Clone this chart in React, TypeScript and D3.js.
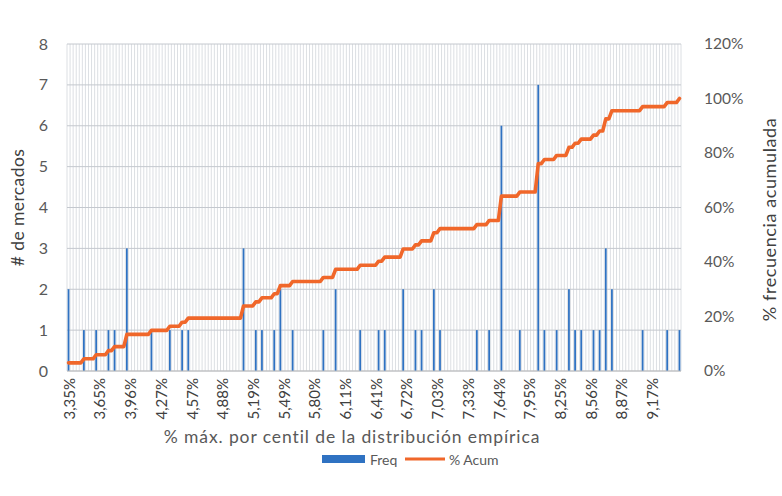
import React from "react";
import * as d3 from "d3";

// ---- data ----
const binCount = 200; // number of histogram categories
const tickLabels = [
  "3,35%", "3,65%", "3,96%", "4,27%", "4,57%", "4,88%", "5,19%", "5,49%", "5,80%", "6,11%",
  "6,41%", "6,72%", "7,03%", "7,33%", "7,64%", "7,95%", "8,25%", "8,56%", "8,87%", "9,17%",
];
const tickEvery = 10; // a label every 10 categories
const freqIndex = [0, 5, 9, 13, 15, 19, 27, 33, 37, 39, 57, 61, 63, 67, 69, 73, 83, 87, 95, 101, 103, 109, 113, 115, 119, 121, 133, 137, 141, 147, 153, 155, 159, 163, 165, 167, 171, 173, 175, 177, 187, 195, 199];
const freqCount = [2, 1, 1, 1, 1, 3, 1, 1, 1, 1, 3, 1, 1, 1, 2, 1, 1, 2, 1, 1, 1, 2, 1, 1, 2, 1, 1, 1, 6, 1, 7, 1, 1, 2, 1, 1, 1, 1, 3, 2, 1, 1, 1];
const leftTicks = [0, 1, 2, 3, 4, 5, 6, 7, 8];
const rightTicks = [0, 0.2, 0.4, 0.6, 0.8, 1.0, 1.2];

const W = 782, H = 496;
const X0 = 67, X1 = 681, YT = 44, YB = 371;
const BLUE = "#2f72c2";
const ORANGE = "#f0672a";
const FONT = "Lato, 'Open Sans', sans-serif";

export default function App() {
  const cats = d3.range(binCount);
  const freq = cats.map(() => 0);
  freqIndex.forEach((ix, k) => (freq[ix] = freqCount[k]));
  const total = d3.sum(freq);
  const cum = d3.cumsum(freq).map((v) => v / total);

  const x = d3.scaleBand<number>().domain(cats).range([X0, X1]).paddingInner(0.42).paddingOuter(0.21);
  const xOuter = d3.scaleBand<number>().domain(cats).range([X0, X1]).padding(0);
  const yL = d3.scaleLinear().domain([0, 8]).range([YB, YT]);
  const yR = d3.scaleLinear().domain([0, 1.2]).range([YB, YT]);

  const line = d3
    .line<number>()
    .x((_, i) => (xOuter(i) as number) + xOuter.bandwidth() / 2)
    .y((d) => yR(d));

  return (
    <svg width={W} height={H} style={{ position: "absolute", left: 0, top: 0, background: "#fff" }}>
      {/* vertical gridlines at category boundaries */}
      {d3.range(binCount + 1).map((i) => {
        const gx = X0 + i * xOuter.step();
        return <line key={"v" + i} x1={gx} x2={gx} y1={YT} y2={YB} stroke="#d0d4da" strokeWidth={0.75} />;
      })}
      {/* horizontal gridlines */}
      {leftTicks.map((t) => (
        <line key={"h" + t} x1={X0} x2={X1} y1={yL(t)} y2={yL(t)} stroke="#c4c8ce" strokeWidth={1} />
      ))}
      {/* bars */}
      {cats.map((c) =>
        freq[c] > 0 ? (
          <rect key={"b" + c} x={x(c)} y={yL(freq[c])} width={x.bandwidth()} height={YB - yL(freq[c])} fill={BLUE} />
        ) : null
      )}
      {/* x axis line */}
      <line x1={X0} x2={X1} y1={YB} y2={YB} stroke="#bfbfbf" strokeWidth={1} />
      {/* cumulative line */}
      <path d={line(cum) || ""} fill="none" stroke={ORANGE} strokeWidth={3.6} strokeLinejoin="round" strokeLinecap="round" />
      {/* left ticks */}
      {leftTicks.map((t) => (
        <text key={"lt" + t} x={48} y={yL(t)} dy="0.35em" textAnchor="end" fontFamily={FONT} fontSize={16} fill="#595959">
          {t}
        </text>
      ))}
      {/* right ticks */}
      {rightTicks.map((t) => (
        <text key={"rt" + t} x={704} y={yR(t)} dy="0.35em" textAnchor="start" fontFamily={FONT} fontSize={15.5} fill="#595959">
          {Math.round(t * 100) + "%"}
        </text>
      ))}
      {/* x tick labels */}
      {tickLabels.map((lab, k) => {
        const c = k * tickEvery;
        const cx = (xOuter(c) as number) + xOuter.bandwidth() / 2 + 1;
        return (
          <text
            key={"xt" + k}
            transform={`translate(${cx},378) rotate(-90)`}
            dy="0.35em"
            textAnchor="end"
            fontFamily={FONT}
            fontSize={15}
            fill="#404040"
          >
            {lab}
          </text>
        );
      })}
      {/* axis titles */}
      <text transform={`translate(18,${(YT + YB) / 2}) rotate(-90)`} textAnchor="middle" dy="0.35em" fontFamily={FONT} fontSize={17.5} letterSpacing={0.4} fill="#404040">
        # de mercados
      </text>
      <text transform={`translate(770,${(YT + YB) / 2 + 12}) rotate(-90)`} textAnchor="middle" dy="0.35em" fontFamily={FONT} fontSize={18} letterSpacing={0.6} fill="#404040">
        % frecuencia acumulada
      </text>
      <text x={352} y={443} textAnchor="middle" fontFamily={FONT} fontSize={17.5} letterSpacing={0.9} fill="#595959">
        % máx. por centil de la distribución empírica
      </text>
      {/* legend */}
      <rect x={322} y={455} width={43} height={8} fill={BLUE} />
      <text x={370} y={464.5} fontFamily={FONT} fontSize={14} fill="#595959">
        Freq
      </text>
      <line x1={405} x2={445} y1={459} y2={459} stroke={ORANGE} strokeWidth={3} />
      <text x={449} y={464.5} fontFamily={FONT} fontSize={14} fill="#595959">
        % Acum
      </text>
    </svg>
  );
}
